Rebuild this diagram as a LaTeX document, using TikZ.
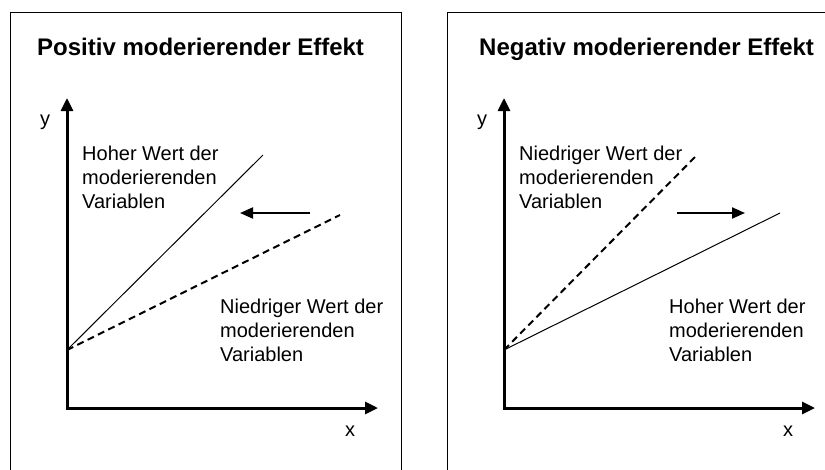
\documentclass[tikz,border=0pt]{standalone}
\usepackage{fontspec}
\setmainfont{Liberation Sans}
\usetikzlibrary{arrows.meta}
\tikzset{
  mod/frame/.style={draw=black, line width=1pt},
  mod/axis/.style={
    {Triangle[length=13pt,width=12pt]}-{Triangle[length=13pt,width=12pt]},
    line width=3pt,
    line join=miter
  },
  mod/solid/.style={line width=1pt},
  mod/dashed/.style={line width=2pt, dash pattern=on 7pt off 4.5pt},
  mod/shift/.style={-{Triangle[length=13pt,width=11pt]}, line width=2pt},
  mod/title/.style={font=\fontsize{24}{28}\selectfont\bfseries, inner sep=0pt, anchor=base west},
  mod/label/.style={font=\fontsize{20}{24}\selectfont, align=left, inner sep=0pt, anchor=base west}
}
\begin{document}
\begin{tikzpicture}[x=1pt,y=-1pt]
  \useasboundingbox (0,0) rectangle (825,469);
  \clip (0,0) rectangle (825,469);

  % left panel
  \draw[mod/frame] (10,12) rectangle (401,490);
  \node[mod/title] (ptitle) at (37,55) {Positiv moderierender Effekt};
  \coordinate (po) at (67,408);
  \coordinate (py) at (67,98);
  \coordinate (px) at (378,408);
  \coordinate (ps) at (67,350);
  \coordinate (phigh) at (263,155);
  \coordinate (plow) at (340,215);
  \coordinate (pfrom) at (310,213);
  \coordinate (pto) at (240,213);
  \draw[mod/axis] (py) -- (po) -- (px);
  \node[mod/label] (pylab) at (40,125) {y};
  \node[mod/label] (pxlab) at (345,436) {x};
  \draw[mod/solid] (ps) -- (phigh);
  \draw[mod/dashed] (ps) -- (plow);
  \draw[mod/shift] (pfrom) -- (pto);
  % base anchor sits on the last line
  \node[mod/label] (phightxt) at (82,208) {Hoher Wert der\\moderierenden\\Variablen};
  \node[mod/label] (plowtxt) at (220,361) {Niedriger Wert der\\moderierenden\\Variablen};

  % right panel
  \draw[mod/frame] (447,12) rectangle (838,490);
  \node[mod/title] (ntitle) at (479,55) {Negativ moderierender Effekt};
  \coordinate (no) at (504,408);
  \coordinate (ny) at (504,98);
  \coordinate (nx) at (815,408);
  \coordinate (ns) at (504,350);
  \coordinate (nlow) at (697,155);
  \coordinate (nhigh) at (780,213);
  \coordinate (nfrom) at (677,213);
  \coordinate (nto) at (745,213);
  \draw[mod/axis] (ny) -- (no) -- (nx);
  \node[mod/label] (nylab) at (477,125) {y};
  \node[mod/label] (nxlab) at (783,436) {x};
  \draw[mod/dashed] (ns) -- (nlow);
  \draw[mod/solid] (ns) -- (nhigh);
  \draw[mod/shift] (nfrom) -- (nto);
  \node[mod/label] (nlowtxt) at (519,208) {Niedriger Wert der\\moderierenden\\Variablen};
  \node[mod/label] (nhightxt) at (669,361) {Hoher Wert der\\moderierenden\\Variablen};
\end{tikzpicture}
\end{document}
